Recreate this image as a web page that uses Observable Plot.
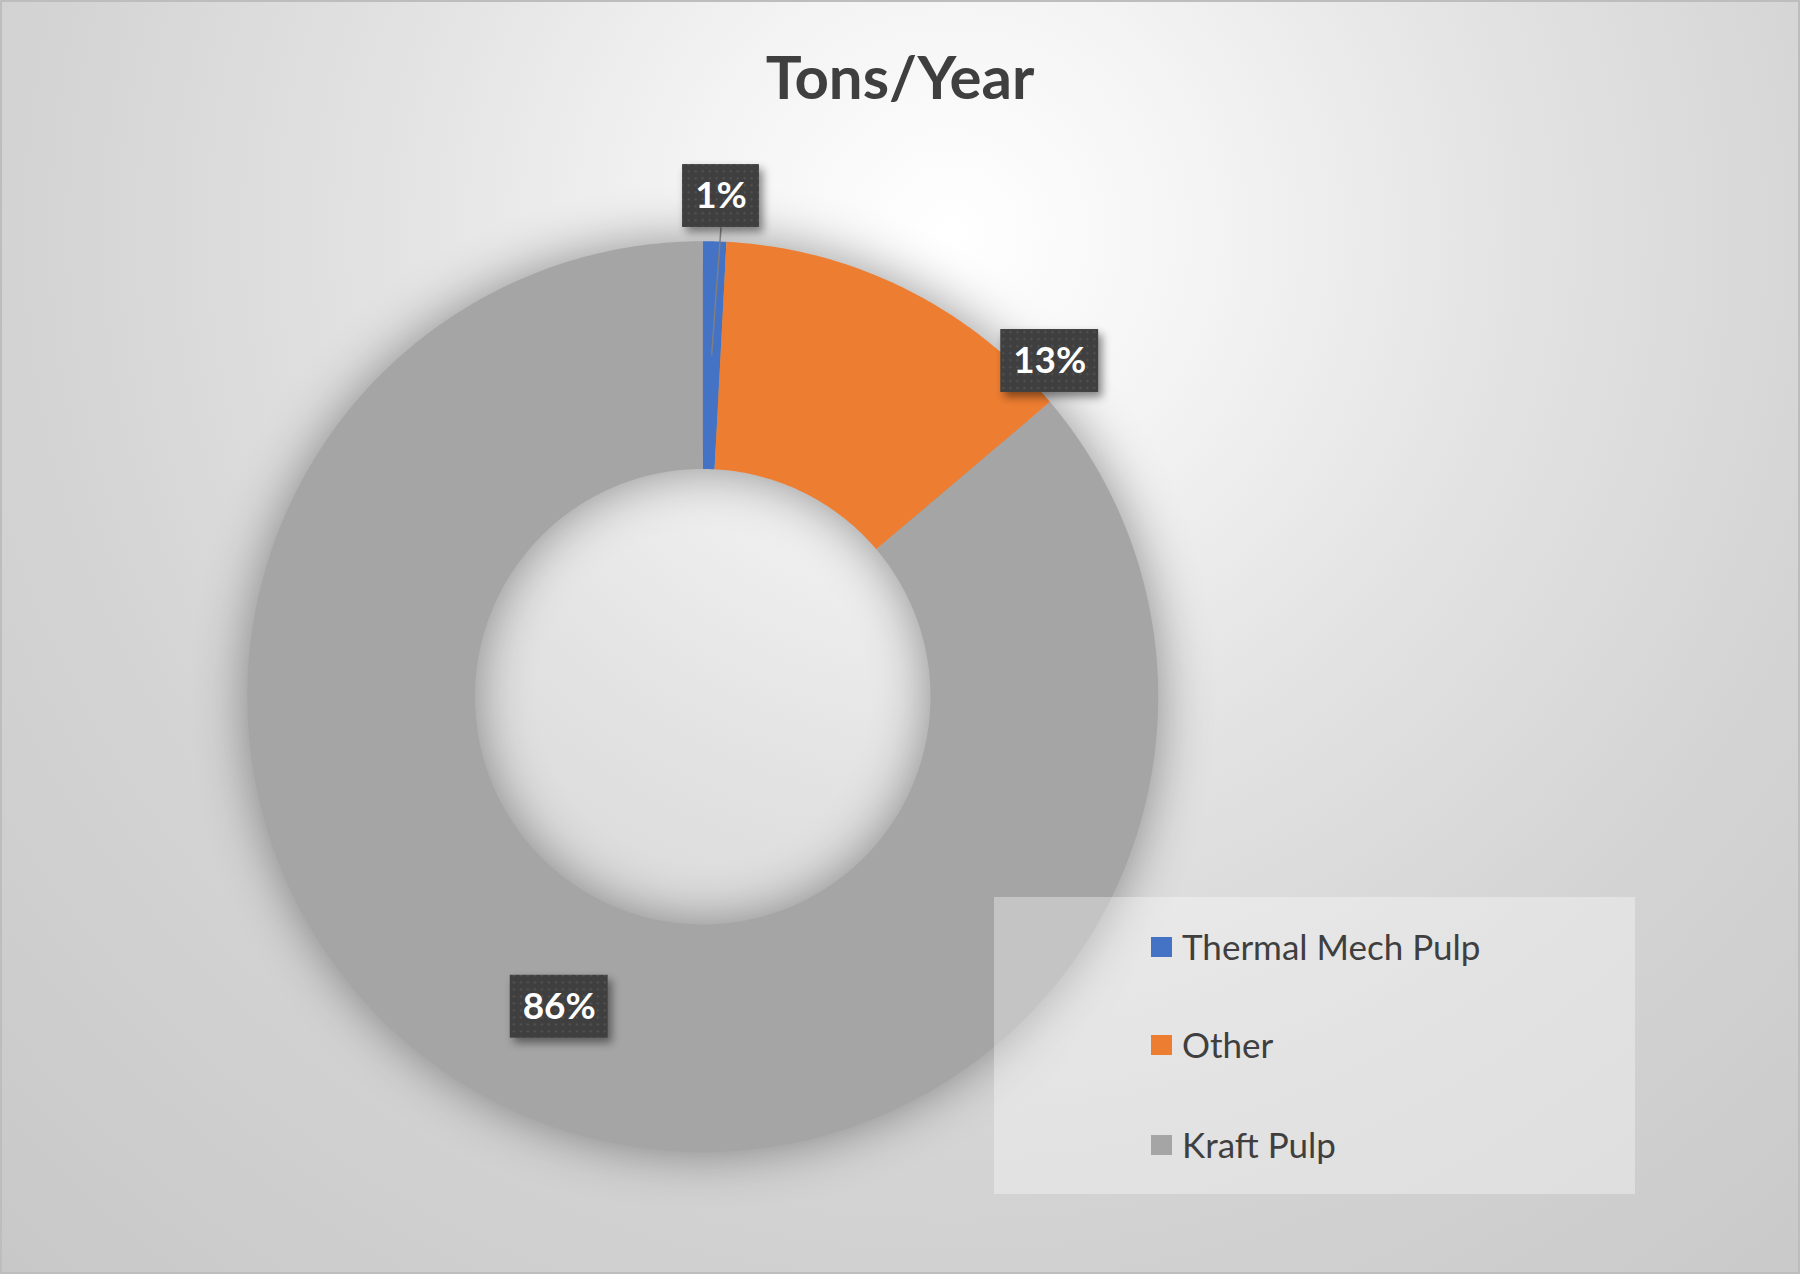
<!DOCTYPE html>
<html><head><meta charset="utf-8">
<script src="https://cdn.jsdelivr.net/npm/d3@7"></script>
<script src="https://cdn.jsdelivr.net/npm/@observablehq/plot@0.6"></script>
<style>
html,body{margin:0;padding:0;background:#fff;}
#chart{position:relative;width:1800px;height:1274px;box-sizing:border-box;border:2px solid #bdbdbd;
 background: radial-gradient(circle 1400px at 950px 230px, #ffffff 0%, #f4f4f4 18%, #e3e3e3 40%, #d4d4d4 65%, #c8c8c8 100%);
 overflow:hidden; font-family: Lato, "Open Sans", sans-serif;}
#title{position:absolute;left:0;width:100%;top:44px;text-align:center;font-size:60px;font-weight:700;line-height:1;color:#3f3f3f;}
#plot{position:absolute;left:-2px;top:-2px;}
#legend{position:absolute;left:992px;top:895px;width:641px;height:297px;background:rgba(255,255,255,0.35);}
.item{position:absolute;left:157px;display:flex;align-items:center;font-size:35px;color:#3f3f3f;line-height:1;white-space:nowrap;}
.sw{width:21px;height:20px;margin-right:10px;}
#plot svg g[aria-label="line"]{filter:drop-shadow(0 0 26px rgba(0,0,0,0.4));}
#plot svg g[aria-label="rect"]{filter:drop-shadow(4px 5px 4px rgba(0,0,0,0.45));}
</style>
</head>
<body>
<div id="chart">
  <div id="plot"></div>
  <div id="title"></div>
  <div id="legend"></div>
</div>
<script>
// ---- data ----
const title = "Tons/Year";
const categories = ["Thermal Mech Pulp", "Other", "Kraft Pulp"];
const shares = [0.83, 12.97, 86.2];
const pctLabels = ["1%", "13%", "86%"];
const colors = ["#4472C4", "#ED7D31", "#A5A5A5"];

// ---- layout ----
const W = 1800, H = 1274, CX = 703, CY = 697, R = 456, INNER = 0.5;
const labelFrac = [0.7, 0.92, 0.5];
const labelRad = [1.10, 1.06, 0.75];
const BOX_H = 63;
const legendRowTop = [32, 130, 230];

const arcs = d3.pie().sort(null).startAngle(0).endAngle(2 * Math.PI)(shares);
const pt = (a, r) => ({x: r * Math.sin(a), y: r * Math.cos(a)});

const ring = [];
arcs.forEach((d, i) => {
  const span = d.endAngle - d.startAngle;
  const n = Math.max(3, Math.ceil(span * 120));
  for (let k = 0; k <= n; k++) ring.push({cat: categories[i], ...pt(d.startAngle + span * k / n, 1)});
  for (let k = n; k >= 0; k--) ring.push({cat: categories[i], ...pt(d.startAngle + span * k / n, INNER)});
});

const labelData = arcs.map((d, i) => {
  const span = d.endAngle - d.startAngle;
  const p = pt(d.startAngle + span * labelFrac[i], labelRad[i]);
  const w = (35 + 21 * pctLabels[i].length) / R;
  const h = BOX_H / R;
  const mid = (d.startAngle + d.endAngle) / 2;
  return {text: pctLabels[i], share: shares[i], x: p.x, y: p.y, x1: p.x - w / 2, x2: p.x + w / 2, y1: p.y - h / 2, y2: p.y + h / 2, mid};
});
const leaders = labelData.filter(d => d.share < 2).map(d => {
  const q = pt(d.mid, (1 + INNER) / 2);
  return {x1: d.x, y1: d.y1, x2: q.x, y2: q.y};
});

const plot = Plot.plot({
  width: W, height: H, margin: 0,
  x: {domain: [-CX / R, (W - CX) / R], range: [0, W], axis: null},
  y: {domain: [-(H - CY) / R, CY / R], range: [H, 0], axis: null},
  color: {domain: categories, range: colors},
  style: {background: "transparent", overflow: "visible"},
  marks: [
    Plot.line(ring, {x: "x", y: "y", z: "cat", fill: "cat", stroke: "none"}),
    Plot.link(leaders, {x1: "x1", y1: "y1", x2: "x2", y2: "y2", stroke: "#7f7f7f", strokeWidth: 1.5}),
    Plot.rect(labelData, {x1: "x1", x2: "x2", y1: "y1", y2: "y2", fill: "#404040"}),
    Plot.text(labelData, {x: "x", y: "y", text: "text", fill: "white", fontSize: 37, fontWeight: "bold", fontFamily: "Lato"})
  ]
});

const svg = d3.select(plot);
const defs = svg.insert("defs", ":first-child");
const pat = defs.append("pattern").attr("id", "dots").attr("width", 7).attr("height", 7).attr("patternUnits", "userSpaceOnUse");
pat.append("rect").attr("width", 7).attr("height", 7).attr("fill", "#3f3f3f");
pat.append("circle").attr("cx", 3.5).attr("cy", 3.5).attr("r", 1.1).attr("fill", "#575757");
svg.select('g[aria-label="rect"]').attr("fill", "url(#dots)");

document.getElementById("plot").appendChild(plot);
document.getElementById("title").textContent = title;

const legend = d3.select("#legend");
categories.forEach((c, i) => {
  const it = legend.append("div").attr("class", "item").style("top", legendRowTop[i] + "px");
  it.append("div").attr("class", "sw").style("background", colors[i]);
  it.append("span").text(c);
});
</script>
</body></html>
